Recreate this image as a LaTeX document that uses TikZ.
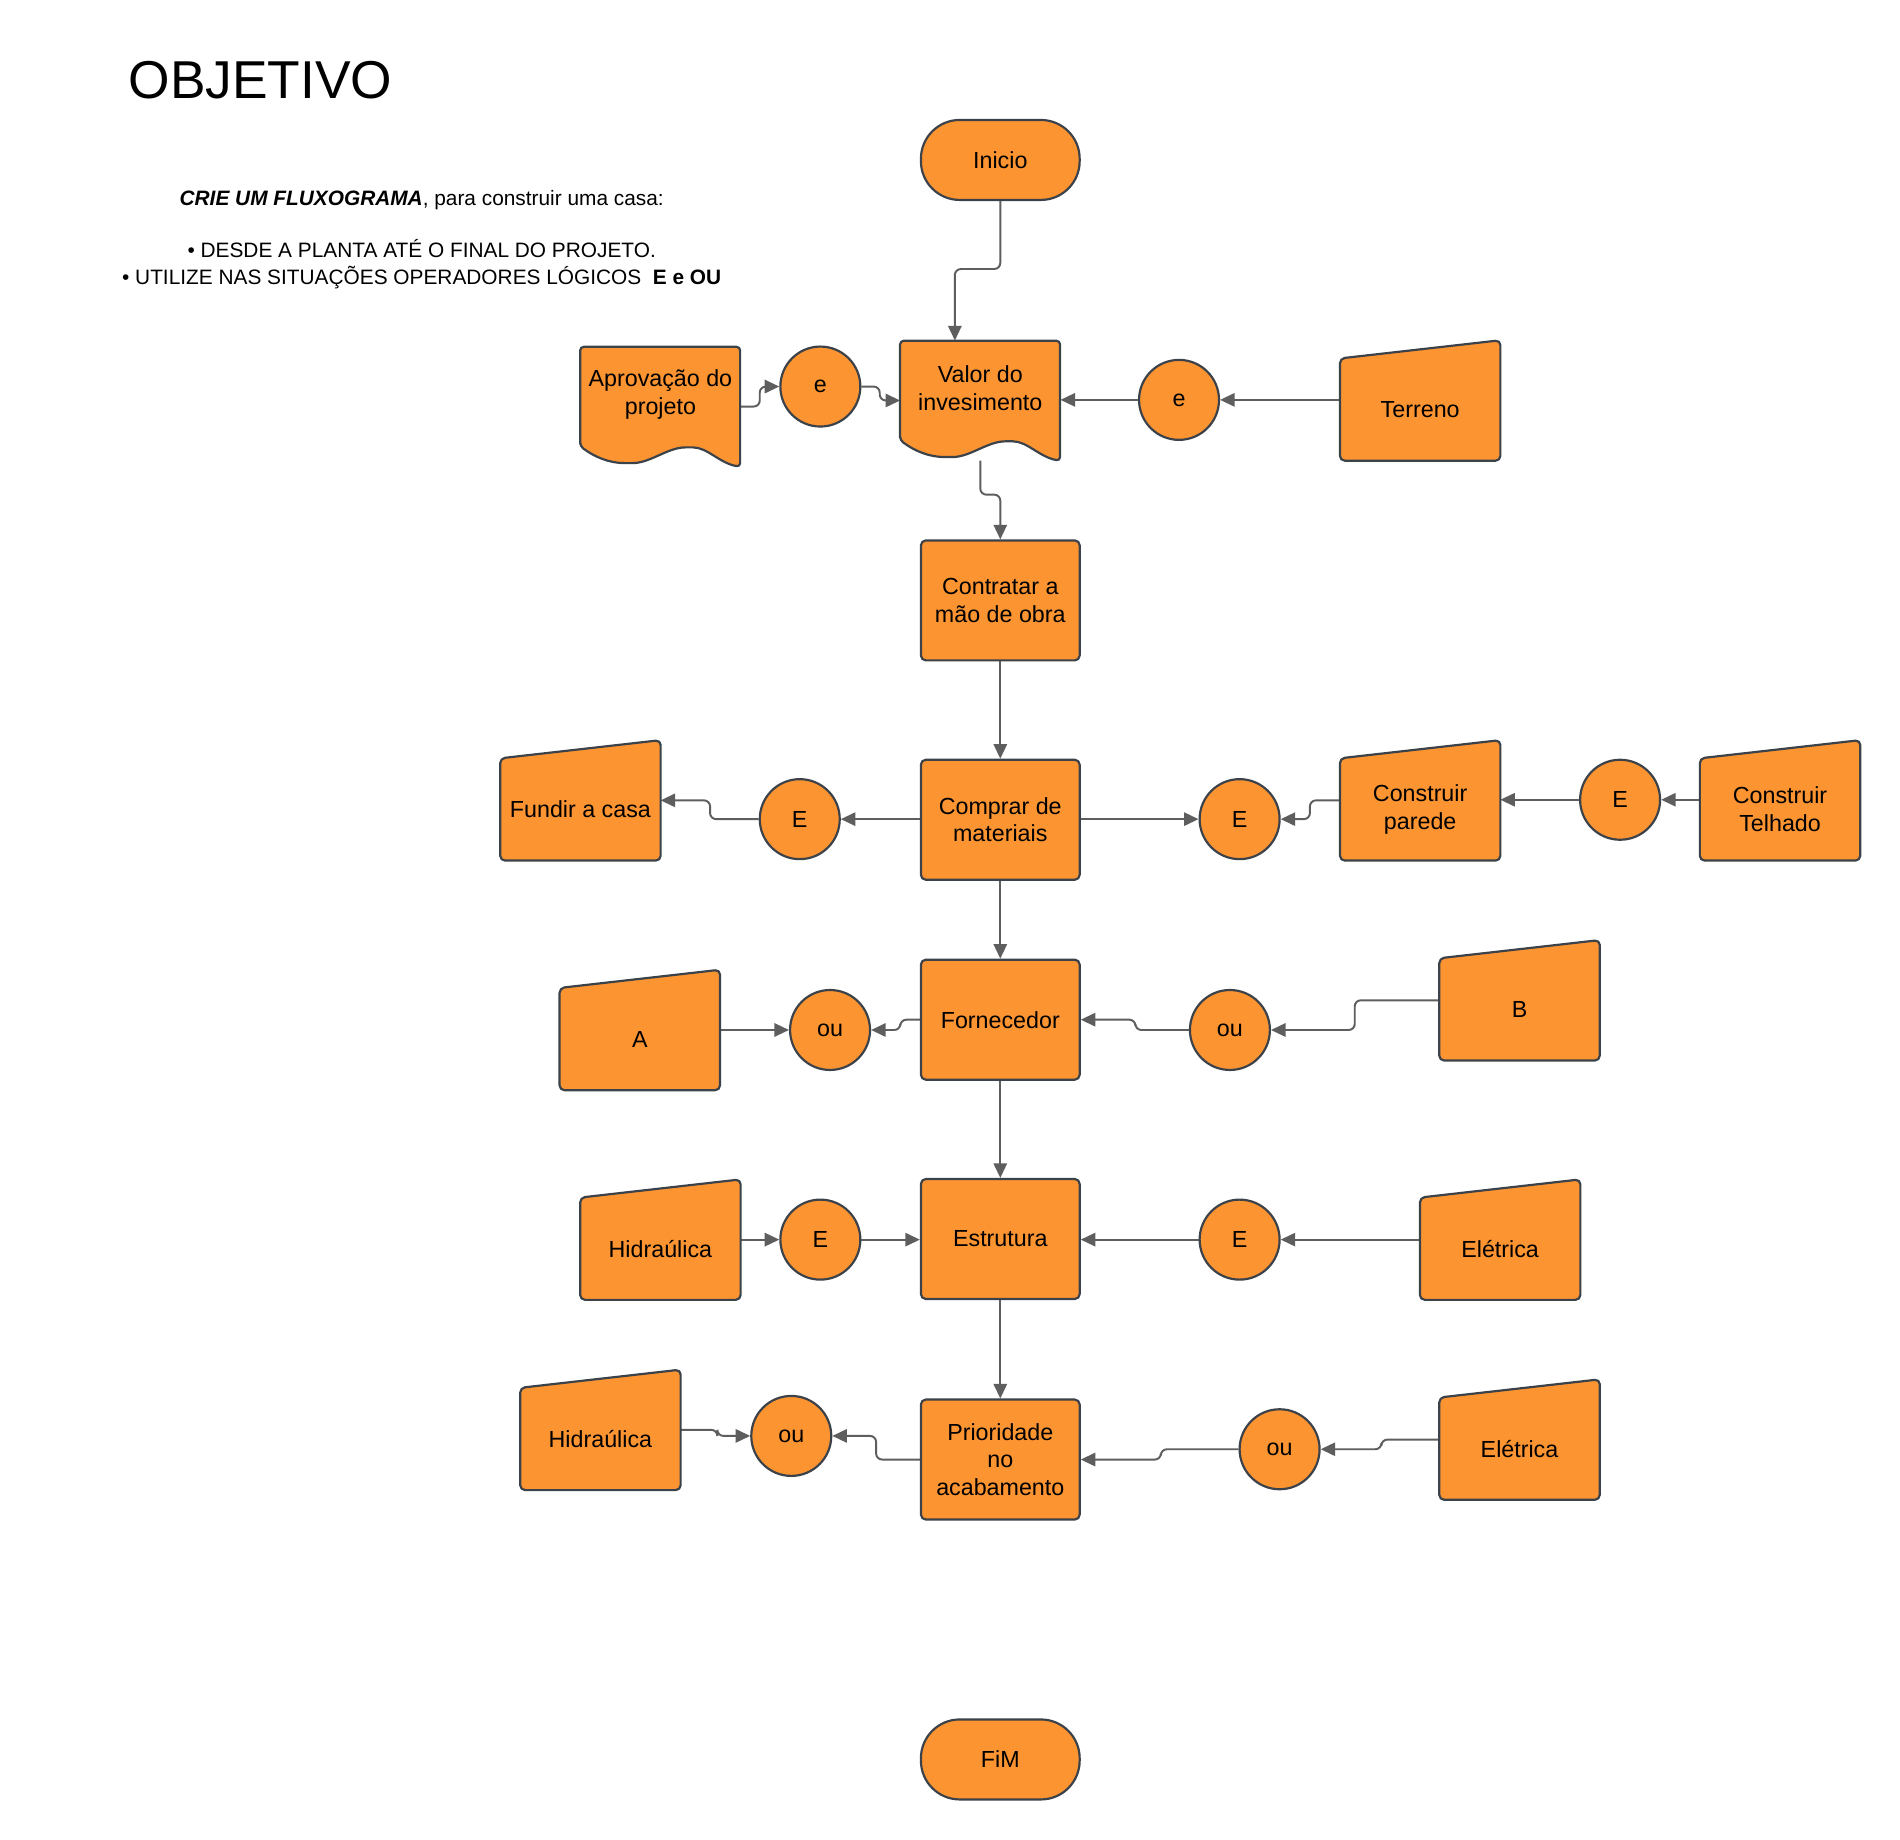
\documentclass[tikz,border=0pt]{standalone}
\usepackage{fontspec}
\setmainfont{Liberation Sans}
\usetikzlibrary{arrows.meta,calc}
\definecolor{org}{HTML}{FC9432}
\definecolor{bord}{HTML}{3C4249}
\definecolor{lnk}{HTML}{5E5E5E}
\pgfdeclarelayer{bg}
\pgfsetlayers{bg,main}
\newcommand{\NdFont}{\fontsize{19.2}{22.8}\selectfont}
\tikzset{
  shp/.style={draw=bord, fill=org, line width=1.8pt, line join=round},
  procbox/.style={shp, rectangle, rounded corners=4pt, minimum width=131pt, minimum height=99pt, inner sep=0pt, align=center, font=\NdFont},
  termbox/.style={procbox, rounded corners=32pt, minimum height=66pt},
  gate/.style={shp, circle, minimum size=66pt, inner sep=0pt, font=\NdFont},
  mbox/.style={rectangle, minimum width=132pt, minimum height=99pt, inner sep=0pt},
  lbl/.style={font=\NdFont, align=center, inner sep=0pt},
  conn/.style={draw=lnk, line width=1.6pt, rounded corners=5pt, -{Triangle[length=12pt,width=11pt]}}
}
\newcommand{\ManIn}[4]{%
  \node[mbox] (#1) at (#2,#3) {};
  \draw[shp, rounded corners=4pt] ([yshift=-15pt]#1.north west) -- (#1.north east) -- (#1.south east) -- (#1.south west) -- cycle;
  \node[lbl] at ([yshift=-7.5pt]#1.center) {#4};
}
\newcommand{\DocSh}[4]{%
  \node[mbox] (#1) at (#2,#3) {};
  \begin{scope}[shift={(#1.south west)}]
    \draw[shp, rounded corners=3pt] (0,-17) -- (0,-99) -- (132,-99) -- (132,0)
      .. controls (115,-3) and (105,-16) .. (90,-16)
      .. controls (72,-16) and (58,-3) .. (40,-3)
      .. controls (24,-3) and (12,-8) .. (0,-17) -- cycle;
  \end{scope}
  \node[lbl] at ([yshift=10pt]#1.center) {#4};
}
\begin{document}
\begin{tikzpicture}[x=1pt,y=-1pt]
\begin{pgfonlayer}{bg}
\fill[white] (0,0) rectangle (1568,1518);
\end{pgfonlayer}
\useasboundingbox (0,0) rectangle (1568,1518);

% heading
\node[anchor=west, inner sep=0pt, font=\fontsize{44}{50}\selectfont] (title) at (106,66) {OBJETIVO};
\node[align=center, inner sep=0pt, font=\fontsize{17.2}{21.7}\selectfont] (brief) at (348,197.5)
  {\textbf{\textit{CRIE UM FLUXOGRAMA}}, para construir uma casa:\\[21.7pt]
   • DESDE A PLANTA ATÉ O FINAL DO PROJETO.\\
   • UTILIZE NAS SITUAÇÕES OPERADORES LÓGICOS\ \ \textbf{E e OU}};

% main column
\node[termbox] (inicio) at (825.5,132) {Inicio};
\DocSh{valor}{809}{330.5}{Valor do\\invesimento}
\DocSh{aprov}{545}{335.5}{Aprovação do\\projeto}
\node[gate] (e1) at (677,319) {e};
\node[gate] (e2) at (973,330) {e};
\ManIn{terreno}{1172}{330.5}{Terreno}

\node[procbox] (contratar) at (825.5,495.5) {Contratar a\\mão de obra};
\node[procbox] (comprar) at (825.5,676.5) {Comprar de\\materiais};
\node[gate] (eL) at (660,676) {E};
\ManIn{fundir}{479}{660.5}{Fundir a casa}
\node[gate] (eR) at (1023,676) {E};
\ManIn{parede}{1172}{660.5}{Construir\\parede}
\node[gate] (e3) at (1337,660) {E};
\ManIn{telhado}{1469}{660.5}{Construir\\Telhado}

\node[procbox] (forn) at (825.5,841.5) {Fornecedor};
\node[gate] (ouL) at (685,850) {ou};
\ManIn{A}{528}{850}{A}
\node[gate] (ouR) at (1015,850) {ou};
\ManIn{B}{1254}{825.5}{B}

\node[procbox] (estr) at (825.5,1022.5) {Estrutura};
\node[gate] (e5) at (677,1023) {E};
\ManIn{hidr}{545}{1023}{Hidraúlica}
\node[gate] (e6) at (1023,1023) {E};
\ManIn{eletr}{1238}{1023}{Elétrica}

\node[procbox] (prior) at (825.5,1204.5) {Prioridade\\no\\acabamento};
\node[gate] (ou3) at (653,1185) {ou};
\ManIn{hidrb}{495.5}{1180}{Hidraúlica}
\node[gate] (ou4) at (1056,1196) {ou};
\ManIn{eletrb}{1254}{1188}{Elétrica}

\node[termbox] (fim) at (825.5,1452) {FiM};

% connectors
\begin{pgfonlayer}{bg}
\draw[conn] (inicio.south) |- (788,222) -- (788,281);
\draw[conn] (aprov.east) -- (627,335.5) |- (e1.west);
\draw[conn] (e1.east) -- (726,319) |- (valor.west);
\draw[conn] (e2.west) -- (valor.east |- e2.west);
\draw[conn] (terreno.west |- e2.east) -- (e2.east);
\draw[conn] (valor.south) -- ++(0,28) -| (contratar.north);
\draw[conn] (contratar.south) -- (comprar.north);
\draw[conn] (comprar.west |- eL.east) -- (eL.east);
\draw[conn] (eL.west) -- (586,676) |- (fundir.east);
\draw[conn] (comprar.east |- eR.west) -- (eR.west);
\draw[conn] (parede.west) -- (1081,660.5) |- (eR.east);
\draw[conn] (e3.west) -- (parede.east |- e3.west);
\draw[conn] (telhado.west |- e3.east) -- (e3.east);
\draw[conn] (comprar.south) -- (forn.north);
\draw[conn] (forn.west) -- (743,841.5) |- (ouL.east);
\draw[conn] (A.east) -- (ouL.west);
\draw[conn] (ouR.west) -- (937,850) |- (forn.east);
\draw[conn] (B.west) -- (1118,825.5) |- (ouR.east);
\draw[conn] (forn.south) -- (estr.north);
\draw[conn] (hidr.east) -- (e5.west);
\draw[conn] (e5.east) -- (estr.west |- e5.east);
\draw[conn] (e6.west) -- (estr.east |- e6.west);
\draw[conn] (eletr.west) -- (e6.east);
\draw[conn] (estr.south) -- (prior.north);
\draw[conn] (prior.west) -- (723,1204.5) |- (ou3.east);
\draw[conn] (hidrb.east) -- (592,1180) |- (ou3.west);
\draw[conn] (ou4.west) -- (958,1196) |- (prior.east);
\draw[conn] (eletrb.west) -- (1140,1188) |- (ou4.east);
\end{pgfonlayer}
\end{tikzpicture}
\end{document}
